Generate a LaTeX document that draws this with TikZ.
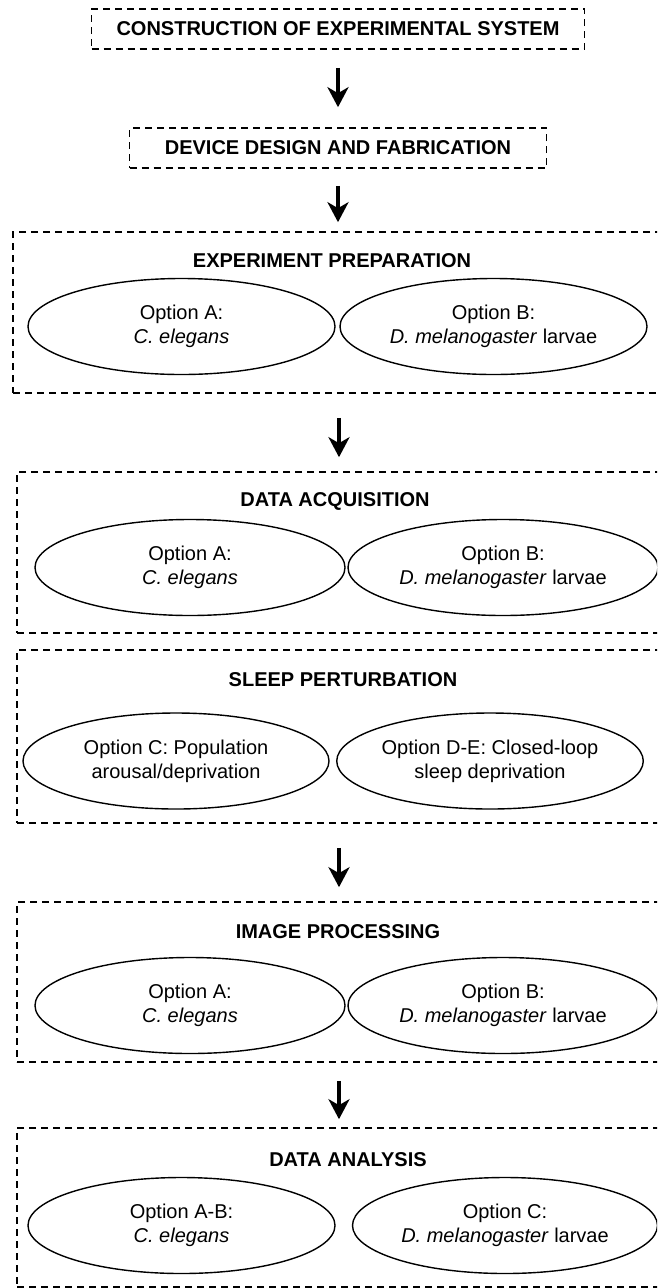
\documentclass[tikz,border=0pt]{standalone}
\usepackage{fontspec}
\setmainfont{Liberation Sans}
\usetikzlibrary{arrows.meta,shapes.geometric,positioning}

\tikzset{
  stagebox/.style={draw, line width=1.6pt, dash pattern=on 7pt off 5pt, inner sep=0pt},
  stagetitle/.style={font=\fontsize{20}{24}\selectfont\bfseries, inner sep=0pt},
  option/.style={draw, ellipse, line width=1.4pt, minimum width=307pt, minimum height=96pt,
    inner sep=0pt, align=center, font=\fontsize{20}{24}\selectfont},
  flowarrow/.style={line width=4.5pt, -{Stealth[length=20pt,width=21pt,inset=6pt]}}
}

\begin{document}
\begin{tikzpicture}[x=1pt,y=-1pt]
    \useasboundingbox (0,0) rectangle (657,1288);
    \clip (0,0) rectangle (657,1288);

    % first two steps
    \node[stagebox, stagetitle, minimum width=493pt, minimum height=40pt] (construct) at (338,29) {CONSTRUCTION OF EXPERIMENTAL SYSTEM};
    \node[stagebox, stagetitle, minimum width=417pt, minimum height=40pt] (design) at (338,148) {DEVICE DESIGN AND FABRICATION};

    % experiment preparation
    \node[stagebox, minimum width=652pt, minimum height=161pt] (prep) at (339,312.5) {};
    \node[stagetitle] (prepTitle) at (332,261) {EXPERIMENT PREPARATION};
    \node[option] (prepA) at (181.5,326.5) {Option A:\\\textit{C. elegans}};
    \node[option] (prepB) at (493.5,326.5) {Option B:\\\textit{D. melanogaster} larvae};

    % data acquisition
    \node[stagebox, minimum width=644pt, minimum height=161pt] (acq) at (339,552.5) {};
    \node[stagetitle] (acqTitle) at (335,501) {DATA ACQUISITION};
    \node[option, minimum width=310pt] (acqA) at (190,567.5) {Option A:\\\textit{C. elegans}};
    \node[option, minimum width=310pt] (acqB) at (503,567.5) {Option B:\\\textit{D. melanogaster} larvae};

    % sleep perturbation
    \node[stagebox, minimum width=644pt, minimum height=173pt] (sleep) at (339,736.5) {};
    \node[stagetitle] (sleepTitle) at (343,680) {SLEEP PERTURBATION};
    \node[option, minimum width=306pt] (sleepC) at (176,761) {Option C: Population\\arousal/deprivation};
    \node[option, minimum width=306pt] (sleepDE) at (490,761) {Option D-E: Closed-loop\\sleep deprivation};

    % image processing
    \node[stagebox, minimum width=644pt, minimum height=160pt] (imaging) at (339,982) {};
    \node[stagetitle] (imagingTitle) at (338,932) {IMAGE PROCESSING};
    \node[option, minimum width=310pt] (imagingA) at (190,1005.5) {Option A:\\\textit{C. elegans}};
    \node[option, minimum width=310pt] (imagingB) at (503,1005.5) {Option B:\\\textit{D. melanogaster} larvae};

    % data analysis
    \node[stagebox, minimum width=644pt, minimum height=159pt] (analysis) at (339,1207.5) {};
    \node[stagetitle] (analysisTitle) at (348,1160) {DATA ANALYSIS};
    \node[option] (analysisAB) at (181.5,1225.5) {Option A-B:\\\textit{C. elegans}};
    \node[option, minimum width=305pt] (analysisC) at (505,1225.5) {Option C:\\\textit{D. melanogaster} larvae};

    % arrows
    \draw[flowarrow, shorten <=18pt, shorten >=20pt] (construct) -- (design);
    \draw[flowarrow, shorten <=17pt, shorten >=9pt] (design.south) -- (design.south |- prep.north);
    \draw[flowarrow, shorten <=24pt, shorten >=14pt] (prep.south) -- (acq.north);
    \draw[flowarrow, shorten <=24pt, shorten >=14pt] (sleep.south) -- (imaging.north);
    \draw[flowarrow, shorten <=18pt, shorten >=8pt] (imaging.south) -- (analysis.north);
\end{tikzpicture}
\end{document}
